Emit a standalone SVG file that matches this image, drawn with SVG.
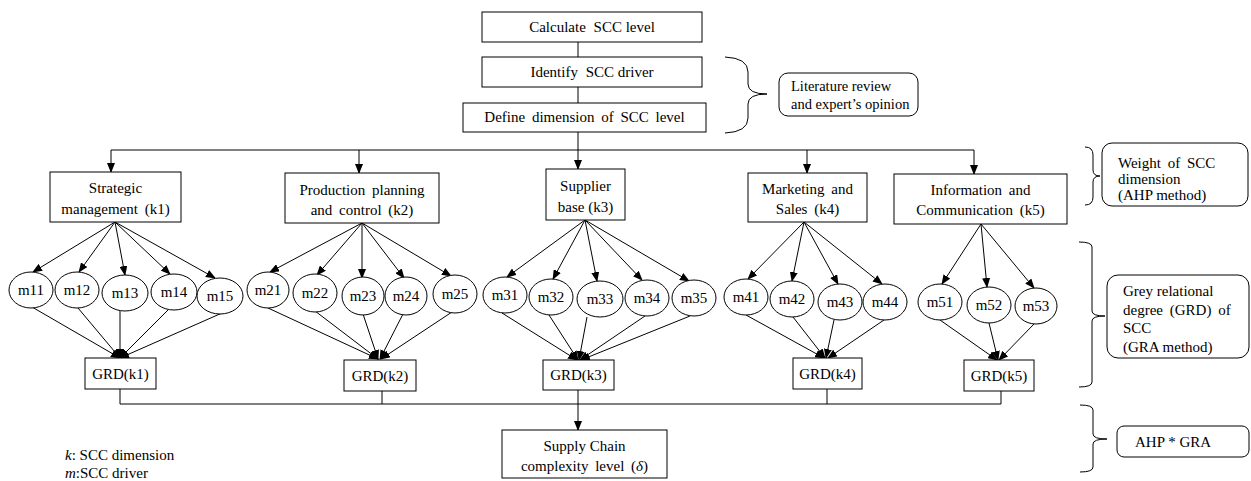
<svg xmlns="http://www.w3.org/2000/svg" width="1251" height="481" viewBox="0 0 1251 481">
<style>
text{font-family:"Liberation Serif","Times New Roman",serif;font-size:15px;fill:#000}
.c{text-anchor:middle}
.w{word-spacing:3px}
.s{font-size:14.5px}
.box{fill:#fff;stroke:#000;stroke-width:1}
.rbox{fill:#fff;stroke:#000;stroke-width:1}
.ln{fill:none;stroke:#000;stroke-width:1}
.ar{fill:none;stroke:#000;stroke-width:1;marker-end:url(#ah)}
.br{fill:none;stroke:#000;stroke-width:1}
</style>
<defs>
<marker id="ah" markerWidth="10" markerHeight="8" refX="9" refY="4" orient="auto" markerUnits="userSpaceOnUse"><path d="M0,0 L10,4 L0,8 z" fill="#000"/></marker>
</defs>
<rect width="1251" height="481" fill="#fff"/>

<g id="connectors">
<line class="ln" x1="578" y1="42" x2="578" y2="57"/>
<line class="ln" x1="578" y1="87" x2="578" y2="103"/>
<line class="ln" x1="578" y1="132" x2="578" y2="150"/>
<line class="ln" x1="111" y1="150" x2="974" y2="150"/>
<line class="ar" x1="111" y1="150" x2="111" y2="172"/>
<line class="ar" x1="359" y1="150" x2="359" y2="173"/>
<line class="ar" x1="578" y1="150" x2="578" y2="169"/>
<line class="ar" x1="807" y1="150" x2="807" y2="173"/>
<line class="ar" x1="974" y1="150" x2="974" y2="174"/>
<line class="ar" x1="115" y1="222" x2="33" y2="272"/>
<line class="ar" x1="115" y1="222" x2="79" y2="272"/>
<line class="ar" x1="115" y1="222" x2="125" y2="275"/>
<line class="ar" x1="115" y1="222" x2="170" y2="274"/>
<line class="ar" x1="115" y1="222" x2="215" y2="278"/>
<line class="ar" x1="32" y1="307" x2="120" y2="358"/>
<line class="ar" x1="78" y1="308" x2="120" y2="358"/>
<line class="ar" x1="120" y1="311" x2="120" y2="358"/>
<line class="ar" x1="168" y1="310" x2="120" y2="358"/>
<line class="ar" x1="222" y1="313" x2="120" y2="358"/>
<line class="ar" x1="362" y1="223" x2="270" y2="272"/>
<line class="ar" x1="362" y1="223" x2="317" y2="275"/>
<line class="ar" x1="362" y1="223" x2="362" y2="278"/>
<line class="ar" x1="362" y1="223" x2="404" y2="278"/>
<line class="ar" x1="362" y1="223" x2="451" y2="276"/>
<line class="ar" x1="268" y1="308" x2="378" y2="359"/>
<line class="ar" x1="315" y1="311" x2="378" y2="359"/>
<line class="ar" x1="363" y1="314" x2="378" y2="359"/>
<line class="ar" x1="403" y1="314" x2="380" y2="359"/>
<line class="ar" x1="452" y1="312" x2="381" y2="359"/>
<line class="ar" x1="585" y1="220" x2="507" y2="277"/>
<line class="ar" x1="585" y1="220" x2="553" y2="279"/>
<line class="ar" x1="585" y1="220" x2="597" y2="281"/>
<line class="ar" x1="585" y1="220" x2="642" y2="280"/>
<line class="ar" x1="585" y1="220" x2="689" y2="281"/>
<line class="ar" x1="502" y1="313" x2="577" y2="360"/>
<line class="ar" x1="549" y1="315" x2="578" y2="360"/>
<line class="ar" x1="587" y1="317" x2="579" y2="360"/>
<line class="ar" x1="645" y1="316" x2="580" y2="360"/>
<line class="ar" x1="690" y1="316" x2="581" y2="360"/>
<line class="ar" x1="804" y1="222" x2="748" y2="279"/>
<line class="ar" x1="804" y1="222" x2="792" y2="281"/>
<line class="ar" x1="804" y1="222" x2="838" y2="284"/>
<line class="ar" x1="804" y1="222" x2="882" y2="284"/>
<line class="ar" x1="746" y1="315" x2="824" y2="358"/>
<line class="ar" x1="793" y1="317" x2="825" y2="358"/>
<line class="ar" x1="834" y1="320" x2="826" y2="358"/>
<line class="ar" x1="884" y1="320" x2="828" y2="358"/>
<line class="ar" x1="981" y1="224" x2="942" y2="284"/>
<line class="ar" x1="981" y1="224" x2="987" y2="287"/>
<line class="ar" x1="981" y1="224" x2="1034" y2="288"/>
<line class="ar" x1="940" y1="320" x2="997" y2="360"/>
<line class="ar" x1="989" y1="323" x2="998" y2="360"/>
<line class="ar" x1="1034" y1="324" x2="999" y2="360"/>
<line class="ln" x1="120" y1="389" x2="120" y2="404"/>
<line class="ln" x1="382" y1="391" x2="382" y2="404"/>
<line class="ln" x1="578" y1="390" x2="578" y2="404"/>
<line class="ln" x1="827" y1="389" x2="827" y2="404"/>
<line class="ln" x1="1001" y1="391" x2="1001" y2="404"/>
<line class="ln" x1="120" y1="404" x2="1001" y2="404"/>
<line class="ar" x1="578" y1="404" x2="578" y2="430"/>
</g>

<g id="calc"><rect class="box" x="482" y="12" width="220" height="30"/><text class="c" x="592" y="32">Calculate <tspan dx="4">SCC level</tspan></text></g>
<g id="identify"><rect class="box" x="482" y="57" width="220" height="30"/><text class="c" x="592" y="77">Identify <tspan dx="4">SCC driver</tspan></text></g>
<g id="define"><rect class="box" x="463" y="103" width="243" height="29"/><text class="c w" x="584.5" y="122">Define dimension of SCC level</text></g>

<g id="k1"><rect class="box" x="50" y="172" width="131" height="50"/><text class="c" x="115.5" y="193">Strategic</text><text class="c w" x="115.5" y="214">management (k1)</text></g>
<g id="k2"><rect class="box" x="285" y="173" width="154" height="50"/><text class="c w" x="362" y="195">Production planning</text><text class="c w" x="362" y="215">and control (k2)</text></g>
<g id="k3"><rect class="box" x="546" y="169" width="79" height="51"/><text class="c" x="585.5" y="191">Supplier</text><text class="c" x="585.5" y="212">base (k3)</text></g>
<g id="k4"><rect class="box" x="748" y="173" width="119" height="49"/><text class="c w" x="807.5" y="194">Marketing and</text><text class="c w" x="807.5" y="214">Sales (k4)</text></g>
<g id="k5"><rect class="box" x="894" y="174" width="173" height="50"/><text class="c w" x="980.5" y="195">Information and</text><text class="c w" x="980.5" y="215">Communication (k5)</text></g>

<g id="m11"><ellipse class="box" cx="31" cy="290" rx="22" ry="18"/><text class="c" x="31" y="295">m11</text></g>
<g id="m12"><ellipse class="box" cx="77" cy="290" rx="22" ry="18"/><text class="c" x="77" y="295">m12</text></g>
<g id="m13"><ellipse class="box" cx="125" cy="293" rx="23" ry="18"/><text class="c" x="125" y="298">m13</text></g>
<g id="m14"><ellipse class="box" cx="174" cy="292" rx="23" ry="18"/><text class="c" x="174" y="297">m14</text></g>
<g id="m15"><ellipse class="box" cx="220" cy="296" rx="23" ry="18"/><text class="c" x="220" y="301">m15</text></g>

<g id="m21"><ellipse class="box" cx="268" cy="290" rx="21" ry="18"/><text class="c" x="268" y="295">m21</text></g>
<g id="m22"><ellipse class="box" cx="315" cy="293" rx="22" ry="19"/><text class="c" x="315" y="298">m22</text></g>
<g id="m23"><ellipse class="box" cx="363" cy="296" rx="21" ry="19"/><text class="c" x="363" y="301">m23</text></g>
<g id="m24"><ellipse class="box" cx="406" cy="296" rx="21" ry="19"/><text class="c" x="406" y="301">m24</text></g>
<g id="m25"><ellipse class="box" cx="455" cy="294" rx="22" ry="19"/><text class="c" x="455" y="299">m25</text></g>

<g id="m31"><ellipse class="box" cx="505" cy="295" rx="22" ry="18"/><text class="c" x="505" y="300">m31</text></g>
<g id="m32"><ellipse class="box" cx="551" cy="297" rx="22" ry="18"/><text class="c" x="551" y="302">m32</text></g>
<g id="m33"><ellipse class="box" cx="600" cy="299" rx="23" ry="18"/><text class="c" x="600" y="304">m33</text></g>
<g id="m34"><ellipse class="box" cx="647" cy="298" rx="22" ry="18"/><text class="c" x="647" y="303">m34</text></g>
<g id="m35"><ellipse class="box" cx="694" cy="298" rx="22" ry="18"/><text class="c" x="694" y="303">m35</text></g>

<g id="m41"><ellipse class="box" cx="746" cy="297" rx="22" ry="18"/><text class="c" x="746" y="302">m41</text></g>
<g id="m42"><ellipse class="box" cx="792" cy="299" rx="22" ry="18"/><text class="c" x="792" y="304">m42</text></g>
<g id="m43"><ellipse class="box" cx="840" cy="302" rx="22" ry="18"/><text class="c" x="840" y="307">m43</text></g>
<g id="m44"><ellipse class="box" cx="885" cy="302" rx="22" ry="18"/><text class="c" x="885" y="307">m44</text></g>

<g id="m51"><ellipse class="box" cx="940" cy="302" rx="22" ry="18"/><text class="c" x="940" y="307">m51</text></g>
<g id="m52"><ellipse class="box" cx="989" cy="305" rx="22" ry="18"/><text class="c" x="989" y="310">m52</text></g>
<g id="m53"><ellipse class="box" cx="1036" cy="306" rx="21" ry="18"/><text class="c" x="1036" y="311">m53</text></g>

<g id="grd1"><rect class="box" x="85" y="358" width="71" height="31"/><text class="c" x="120.5" y="379">GRD(k1)</text></g>
<g id="grd2"><rect class="box" x="344" y="360" width="72" height="31"/><text class="c" x="380" y="381">GRD(k2)</text></g>
<g id="grd3"><rect class="box" x="543" y="360" width="71" height="30"/><text class="c" x="578.5" y="380">GRD(k3)</text></g>
<g id="grd4"><rect class="box" x="793" y="358" width="69" height="31"/><text class="c" x="827.5" y="379">GRD(k4)</text></g>
<g id="grd5"><rect class="box" x="964" y="360" width="70" height="31"/><text class="c" x="999" y="381">GRD(k5)</text></g>

<g id="sccl"><rect class="box" x="502" y="430" width="165" height="48"/><text class="c" x="584.5" y="451">Supply Chain</text><text class="c w" x="584.5" y="471">complexity level (<tspan font-style="italic">δ</tspan>)</text></g>

<g id="lit"><rect class="rbox" x="779" y="73" width="139" height="43" rx="9"/><text class="s" x="791" y="91">Literature review</text><text class="s" x="791" y="109">and expert’s opinion</text></g>
<g id="weight"><rect class="rbox" x="1102" y="143" width="146" height="63" rx="10"/><text class="w" x="1118" y="168">Weight of SCC</text><text x="1118" y="184">dimension</text><text x="1118" y="200">(AHP method)</text></g>
<g id="grey"><rect class="rbox" x="1107" y="275" width="142" height="83" rx="11"/><text x="1123" y="296">Grey relational</text><text class="w" x="1123" y="315">degree (GRD) of</text><text x="1123" y="333">SCC</text><text x="1123" y="352">(GRA method)</text></g>
<g id="ahpgra"><rect class="rbox" x="1117" y="426" width="132" height="31" rx="7"/><text x="1135" y="447">AHP * GRA</text></g>

<g id="braces">
<path class="br" d="M725,57 Q748,58 748,72 L748,84 Q748,94 767,94 Q748,94 748,104 L748,118 Q748,132 725,133"/>
<path class="br" d="M1085,147 Q1093,147 1093,155 L1093,170 Q1093,176 1100,176 Q1093,176 1093,182 L1093,197 Q1093,205 1085,205"/>
<path class="br" d="M1079,242 Q1092,242 1092,247 L1092,311 Q1092,316 1105,316 Q1092,316 1092,321 L1092,382 Q1092,387 1079,387"/>
<path class="br" d="M1080,405 Q1093,405 1093,410 L1093,434 Q1093,439 1107,439 Q1093,439 1093,444 L1093,467 Q1093,472 1080,472"/>
</g>

<g id="legend"><text x="65" y="460"><tspan font-style="italic">k</tspan>: SCC dimension</text><text x="65" y="478"><tspan font-style="italic">m</tspan>:SCC driver</text></g>
</svg>
